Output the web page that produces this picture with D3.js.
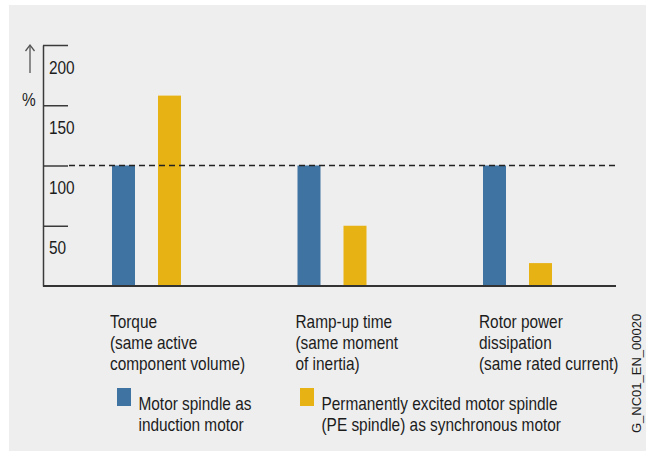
<!DOCTYPE html>
<html>
<head>
<meta charset="utf-8">
<script src="https://cdn.jsdelivr.net/npm/d3@7"></script>
<style>
  html, body { margin: 0; padding: 0; background: #ffffff; }
  svg { display: block; }
  text { font-family: "Liberation Sans", Arial, sans-serif; fill: #1c1c1c; }
</style>
</head>
<body>
<svg id="chart" width="646" height="451"></svg>
<script>
// Comparison categories (multi-line labels)
const categories = ["Torque", "Ramp-up time", "Rotor power dissipation"];
const categoryLines = [
  ["Torque", "(same active", "component volume)"],
  ["Ramp-up time", "(same moment", "of inertia)"],
  ["Rotor power", "dissipation", "(same rated current)"]
];

// Series (percent, induction motor = 100 %)
const seriesKeys = ["induction", "pe"];
const seriesLabels = [
  ["Motor spindle as", "induction motor"],
  ["Permanently excited motor spindle", "(PE spindle) as synchronous motor"]
];
const inductionValues = [100, 100, 100];
const peValues = [158, 50, 19];

// Axis
const yTicks = [200, 150, 100, 50];
const referenceValue = 100;
const drawingCode = "G_NC01_EN_00020";

const colors = { induction: "#3f73a2", pe: "#e7b214" };
const squeeze = 0.88;

const svg = d3.select("#chart");

// background panel
svg.append("rect")
  .attr("x", 9).attr("y", 5)
  .attr("width", 646 - 9).attr("height", 451 - 5)
  .attr("fill", "#eeeeee");

const y = d3.scaleLinear().domain([0, 200]).range([286, 45]);
const x0 = d3.scaleBand().domain(categories).range([112, 112 + 3 * 185.5]);
const x1 = d3.scaleBand().domain(seriesKeys).range([0, 69]).paddingInner(0.5);

// condensed multi-line text helper
function textBlock(g, xPos, yPos, lines, size, lineH) {
  const t = g.append("text")
    .attr("transform", `translate(${xPos},${yPos}) scale(${squeeze},1)`)
    .style("font-size", size + "px");
  lines.forEach((l, i) => {
    t.append("tspan").attr("x", 0).attr("y", i * lineH).text(l);
  });
  return t;
}

// y axis: ticks extend right, labels sit below each tick
const axis = d3.axisRight(y)
  .tickValues(yTicks)
  .tickSize(25)
  .tickSizeOuter(0)
  .tickFormat(d3.format("d"));

const axisG = svg.append("g")
  .attr("transform", "translate(43,0)")
  .call(axis);
axisG.select(".domain").attr("stroke", "#3a3a3a").attr("stroke-width", 1.5);
axisG.selectAll(".tick line").attr("stroke", "#3a3a3a").attr("stroke-width", 1.5);
axisG.selectAll(".tick text")
  .attr("x", 0).attr("dy", null).attr("y", 0)
  .attr("transform", `translate(6,28) scale(${squeeze},1)`)
  .style("font-family", "'Liberation Sans', Arial, sans-serif")
  .style("font-size", "17.5px")
  .attr("fill", "#1c1c1c");

// unit arrow and percent sign
svg.append("line")
  .attr("x1", 30).attr("x2", 30).attr("y1", 46).attr("y2", 73)
  .attr("stroke", "#555").attr("stroke-width", 1.3);
svg.append("path")
  .attr("d", "M25.5,51 L30,45 L34.5,51")
  .attr("fill", "none").attr("stroke", "#555").attr("stroke-width", 1.3);
textBlock(svg, 22, 106, ["%"], 17.5, 20);

// bars
const groups = svg.append("g").selectAll("g")
  .data(categories)
  .join("g")
  .attr("transform", d => `translate(${x0(d)},0)`);

groups.selectAll("rect")
  .data((d, i) => [
    { key: "induction", value: inductionValues[i] },
    { key: "pe", value: peValues[i] }
  ])
  .join("rect")
  .attr("x", d => x1(d.key))
  .attr("width", x1.bandwidth())
  .attr("y", d => y(d.value))
  .attr("height", d => y(0) - y(d.value))
  .attr("fill", d => colors[d.key]);

// reference line at 100 %
svg.append("line")
  .attr("x1", 69).attr("x2", 616)
  .attr("y1", y(referenceValue)).attr("y2", y(referenceValue))
  .attr("stroke", "#222").attr("stroke-width", 1.3)
  .attr("stroke-dasharray", "6,4");

// baseline
svg.append("line")
  .attr("x1", 43).attr("x2", 616)
  .attr("y1", y(0)).attr("y2", y(0))
  .attr("stroke", "#333").attr("stroke-width", 2);

// category labels
const labelShift = [-2, -2, -4];
categories.forEach((c, i) => {
  textBlock(svg, x0(c) + labelShift[i], 328, categoryLines[i], 17.5, 20.8);
});

// legend
const legendX = [117, 300];
seriesKeys.forEach((k, i) => {
  svg.append("rect")
    .attr("x", legendX[i]).attr("y", 388)
    .attr("width", 14).attr("height", 18)
    .attr("fill", colors[k]);
  textBlock(svg, legendX[i] + 21.5, 410, seriesLabels[i], 17.5, 20.8);
});

// drawing code, vertical
svg.append("text")
  .attr("transform", "translate(641,433) rotate(-90)")
  .style("font-size", "13px")
  .attr("fill", "#333")
  .text(drawingCode);
</script>
</body>
</html>
